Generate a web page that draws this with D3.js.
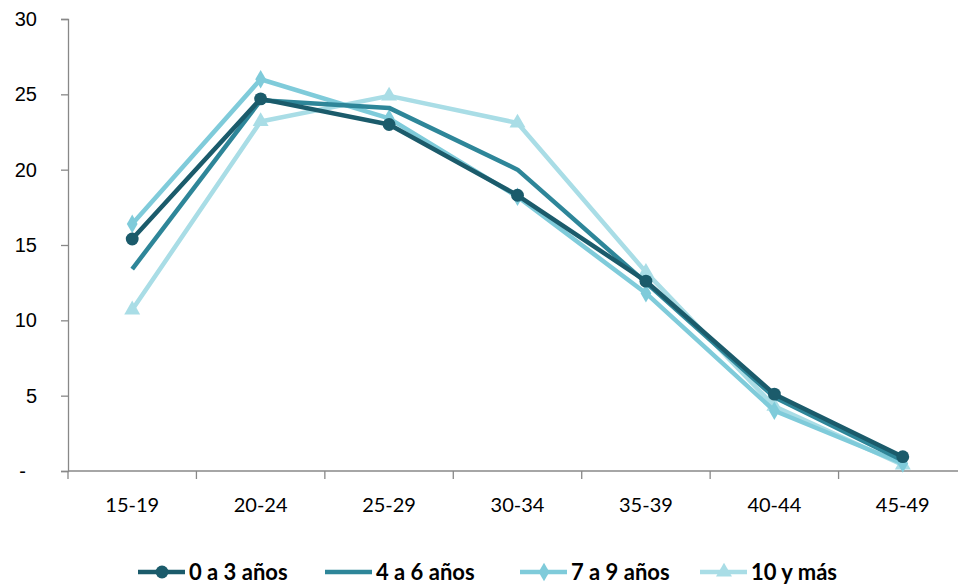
<!DOCTYPE html>
<html>
<head>
<meta charset="utf-8">
<script src="https://cdn.jsdelivr.net/npm/d3@7"></script>
<style>
  body { margin: 0; background: #fff; }
  svg { display: block; font-family: Lato, "Open Sans", sans-serif; }
</style>
</head>
<body>
<svg width="958" height="584"></svg>
<script>
// Data for the chart
const ageGroups = ["15-19", "20-24", "25-29", "30-34", "35-39", "40-44", "45-49"];
const seriesNames = ["0 a 3 años", "4 a 6 años", "7 a 9 años", "10 y más"];
const s0a3 = [15.4, 24.7, 23.0, 18.3, 12.6, 5.1, 0.95];
const s4a6 = [13.4, 24.6, 24.1, 20.0, 12.5, 4.9, 0.7];
const s7a9 = [16.4, 26.0, 23.4, 18.2, 11.8, 4.0, 0.5];
const s10mas = [10.7, 23.2, 24.9, 23.1, 13.2, 4.3, 0.4];
const yTicks = [0, 5, 10, 15, 20, 25, 30];

const colors = ["#1b5b6b", "#2e8699", "#7fcbda", "#a9dde6"];
const markers = ["circle", null, "diamond", "triangle"];
const series = [s0a3, s4a6, s7a9, s10mas].map((values, i) => ({
  name: seriesNames[i], values, color: colors[i], marker: markers[i]
}));

const svg = d3.select("svg");

// Set up scales
const xScale = d3.scaleBand()
  .domain(ageGroups)
  .range([68, 967]);

const yScale = d3.scaleLinear()
  .domain([0, 30])
  .range([471, 19]);

// Y axis
const yAxis = svg.append("g")
  .attr("transform", "translate(68,0)")
  .call(d3.axisLeft(yScale).tickValues(yTicks).tickSize(7).tickPadding(24)
    .tickFormat(d => d === 0 ? "-" : d));
yAxis.select(".domain").attr("stroke", "#888").attr("stroke-width", 1.3);
yAxis.selectAll(".tick line").attr("stroke", "#888").attr("stroke-width", 1.3);
yAxis.selectAll(".tick text").attr("font-size", "20px").attr("fill", "#000");
yAxis.selectAll(".tick text").filter(d => d === 0).attr("dx", "-11px");

// X axis with ticks on band boundaries
const xAxis = svg.append("g")
  .attr("transform", "translate(0,471)");
xAxis.append("line")
  .attr("x1", 68).attr("x2", 967)
  .attr("stroke", "#888").attr("stroke-width", 1.3);
xAxis.selectAll(".xtick")
  .data(ageGroups)
  .enter()
  .append("line")
  .attr("x1", d => xScale(d)).attr("x2", d => xScale(d))
  .attr("y1", 0).attr("y2", 8)
  .attr("stroke", "#888").attr("stroke-width", 1.3);
xAxis.selectAll(".xlabel")
  .data(ageGroups)
  .enter()
  .append("text")
  .text(d => d)
  .attr("x", d => xScale(d) + xScale.bandwidth() / 2)
  .attr("y", 41)
  .attr("text-anchor", "middle")
  .attr("font-size", "20px")
  .attr("fill", "#000");

const cx = (d, i) => xScale(ageGroups[i]) + xScale.bandwidth() / 2;

const line = d3.line()
  .x(cx)
  .y(d => yScale(d));

const symbolType = {
  circle: d3.symbolCircle,
  diamond: d3.symbolDiamond,
  triangle: d3.symbolTriangle
};
const symbolSize = { circle: 130, diamond: 100, triangle: 110 };

// Draw lines in reverse so the darkest series sits on top
[...series].reverse().forEach(s => {
  svg.append("path")
    .datum(s.values)
    .attr("d", line)
    .attr("fill", "none")
    .attr("stroke", s.color)
    .attr("stroke-width", 4.5)
    .attr("stroke-linejoin", "round");

  if (s.marker) {
    svg.selectAll(null)
      .data(s.values)
      .enter()
      .append("path")
      .attr("d", d3.symbol().type(symbolType[s.marker]).size(symbolSize[s.marker]))
      .attr("transform", (d, i) => `translate(${cx(d, i)},${yScale(d)})`)
      .attr("fill", s.color);
  }
});

// Legend
const legendX = [138, 325, 520, 700];
const legend = svg.selectAll(".legend")
  .data(series)
  .enter()
  .append("g")
  .attr("transform", (d, i) => `translate(${legendX[i]},572)`);

legend.append("line")
  .attr("x1", 0).attr("x2", 47)
  .attr("stroke", d => d.color)
  .attr("stroke-width", 4.5);

legend.filter(d => d.marker)
  .append("path")
  .attr("d", d => d3.symbol().type(symbolType[d.marker]).size(symbolSize[d.marker])())
  .attr("transform", "translate(24,0)")
  .attr("fill", d => d.color);

legend.append("text")
  .text(d => d.name)
  .attr("x", 51)
  .attr("y", 8)
  .attr("font-size", "22px")
  .attr("font-weight", "bold")
  .attr("fill", "#000");
</script>
</body>
</html>
